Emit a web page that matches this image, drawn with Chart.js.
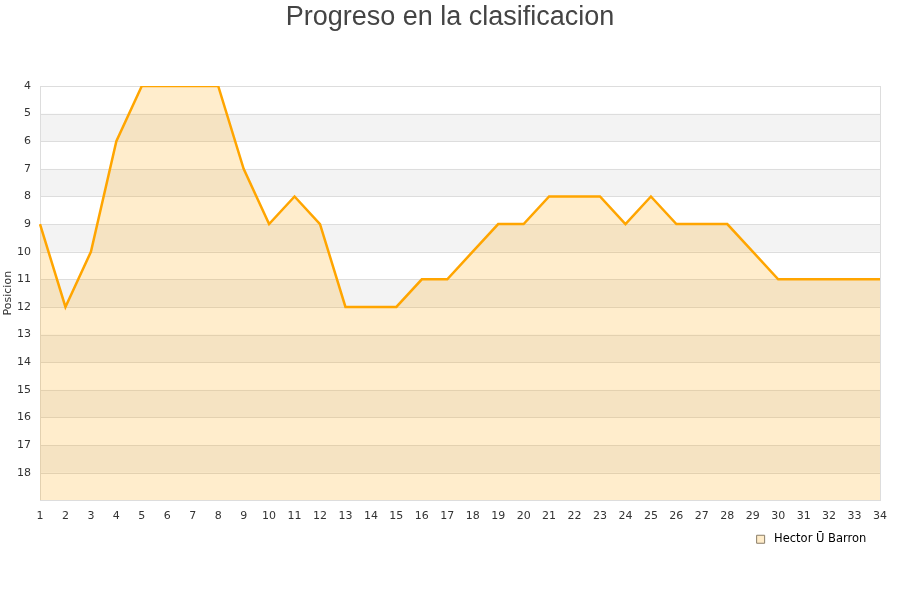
<!DOCTYPE html>
<html>
<head>
<meta charset="utf-8">
<script src="https://cdn.jsdelivr.net/npm/chart.js@4.4.0/dist/chart.umd.min.js"></script>
<style>
  html, body { margin: 0; padding: 0; background: #fff; }
  #wrap { width: 900px; height: 600px; }
</style>
</head>
<body>
<div id="wrap"><canvas id="chart"></canvas></div>
<script>
// jornadas y posiciones
var jornadas = ['1','2','3','4','5','6','7','8','9','10','11','12','13','14','15','16','17',
  '18','19','20','21','22','23','24','25','26','27','28','29','30','31','32','33','34'];
var posiciones = [9, 12, 10, 6, 4, 4, 4, 4, 7, 9, 8, 9, 12, 12, 12, 11, 11,
  10, 9, 9, 8, 8, 8, 9, 8, 9, 9, 9, 10, 11, 11, 11, 11, 11];
var jugador = 'Hector Ū Barron';
var titulo = 'Progreso en la clasificacion';
var posMin = 4;
var posMax = 19;

// bandas alternas y rejilla, debajo del relleno; titulo centrado en el lienzo
var bandas = {
  id: 'bandas',
  beforeDatasetsDraw: function(chart) {
    var ctx = chart.ctx, a = chart.chartArea, y = chart.scales.y;
    ctx.save();
    for (var v = posMin; v < posMax; v++) {
      if (v % 2 == 1) {
        var y1 = y.getPixelForValue(v), y2 = y.getPixelForValue(v + 1);
        ctx.fillStyle = '#f3f3f3';
        ctx.fillRect(a.left, y1, a.right - a.left, y2 - y1);
      }
    }
    ctx.strokeStyle = '#dddddd';
    ctx.lineWidth = 1;
    for (var v = posMin; v <= posMax; v++) {
      var py = Math.round(y.getPixelForValue(v)) + 0.5;
      ctx.beginPath();
      ctx.moveTo(a.left, py);
      ctx.lineTo(a.right, py);
      ctx.stroke();
    }
    ctx.strokeRect(Math.round(a.left) + 0.5, Math.round(a.top) + 0.5,
      Math.round(a.right - a.left), Math.round(a.bottom - a.top));
    ctx.restore();
  },
  afterDraw: function(chart) {
    var ctx = chart.ctx;
    ctx.save();
    ctx.fillStyle = '#444';
    ctx.font = '27px "Liberation Sans"';
    ctx.textAlign = 'center';
    ctx.textBaseline = 'alphabetic';
    ctx.fillText(titulo, chart.width / 2, 25);
    ctx.restore();
  }
};

function init() {
  var ctx = document.getElementById('chart');
  new Chart(ctx, {
    type: 'line',
    data: {
      labels: jornadas,
      datasets: [{
        label: jugador,
        data: posiciones,
        borderColor: '#ffa500',
        backgroundColor: 'rgba(255,165,0,0.2)',
        borderWidth: 2.5,
        pointRadius: 0,
        tension: 0,
        fill: { value: posMax }
      }]
    },
    options: {
      responsive: false,
      animation: false,
      layout: { padding: { left: 0, right: 20, top: 86, bottom: 45 } },
      plugins: {
        title: { display: false },
        legend: {
          position: 'bottom',
          align: 'end',
          labels: {
            color: '#222',
            boxWidth: 8,
            boxHeight: 8,
            padding: 10,
            font: { family: 'DejaVu Sans', size: 11.5 },
            generateLabels: function(chart) {
              return [{
                text: ' ' + jugador + ' ',
                fillStyle: '#ffecc9',
                strokeStyle: '#8a7d68',
                lineWidth: 1,
                datasetIndex: 0
              }];
            }
          }
        },
        tooltip: { enabled: false }
      },
      scales: {
        x: {
          offset: false,
          grid: { display: false },
          border: { display: false },
          ticks: {
            autoSkip: false,
            maxRotation: 0,
            color: '#333',
            padding: 1,
            font: { family: 'DejaVu Sans', size: 11 }
          }
        },
        y: {
          reverse: true,
          min: posMin,
          max: posMax,
          grid: { display: false },
          border: { display: false },
          title: {
            display: true,
            text: 'Posicion',
            color: '#333',
            padding: 2,
            font: { family: 'DejaVu Sans', size: 11 }
          },
          ticks: {
            stepSize: 1,
            color: '#333',
            padding: 1,
            font: { family: 'DejaVu Sans', size: 11 },
            callback: function(v) { return v == posMax ? '' : v; }
          },
          afterFit: function(scale) { scale.width = 40; }
        }
      }
    },
    plugins: [bandas]
  });
}

document.getElementById('chart').width = 900;
document.getElementById('chart').height = 600;
init();
</script>
</body>
</html>
